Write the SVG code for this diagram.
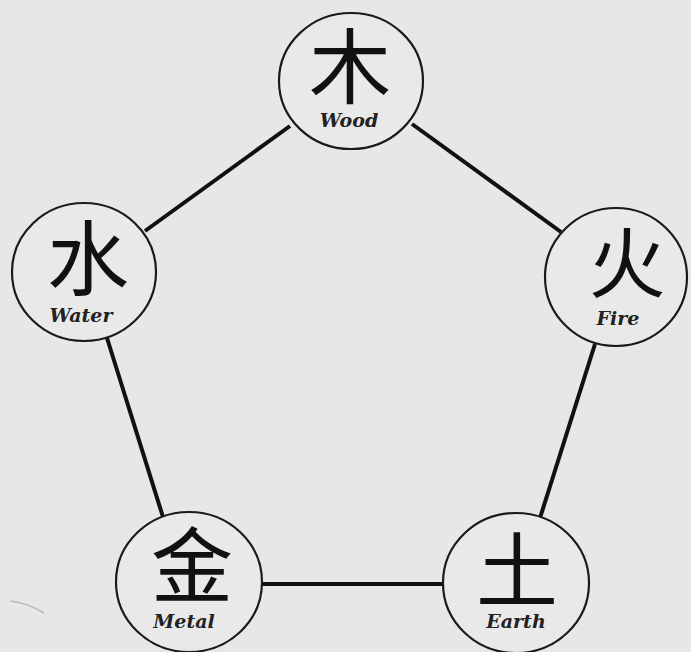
<svg xmlns="http://www.w3.org/2000/svg" width="691" height="652" viewBox="0 0 691 652">
<style>
.bg{fill:#e7e7e7}
.node ellipse{fill:#e9e9e9;stroke:#1a1a1a;stroke-width:2.2}
.han{font-family:"Noto Sans CJK SC","Noto Sans CJK JP",sans-serif;font-size:82px;fill:#111;text-anchor:middle}
.lbl{font-family:"DejaVu Serif","Liberation Serif",serif;font-weight:bold;font-style:italic;font-size:19px;fill:#222;text-anchor:middle}
.conn line{stroke:#111;stroke-width:4;stroke-linecap:butt}
</style>
<rect class="bg" x="0" y="0" width="691" height="652"/>
<g class="conn" id="connectors">
<line x1="412" y1="124" x2="561" y2="232"/>
<line x1="290" y1="126" x2="145" y2="231"/>
<line x1="107" y1="338" x2="163" y2="517"/>
<line x1="595" y1="344" x2="540" y2="518"/>
<line x1="262" y1="584" x2="443" y2="584"/>
</g>
<g class="node" id="wood">
<ellipse cx="351" cy="81" rx="72" ry="68"/>
<text class="han" x="350" y="97">木</text>
<text class="lbl" x="349" y="127">Wood</text>
</g>
<g class="node" id="water">
<ellipse cx="84" cy="272" rx="72" ry="69"/>
<text class="han" x="88" y="289">水</text>
<text class="lbl" x="81" y="322">Water</text>
</g>
<g class="node" id="fire">
<ellipse cx="616" cy="277" rx="71" ry="69"/>
<text class="han" x="627" y="292" style="font-size:77px">火</text>
<text class="lbl" x="618" y="325">Fire</text>
</g>
<g class="node" id="metal">
<ellipse cx="189" cy="582" rx="73" ry="70"/>
<text class="han" x="192" y="596">金</text>
<text class="lbl" x="184" y="628">Metal</text>
</g>
<g class="node" id="earth">
<ellipse cx="516" cy="583" rx="73" ry="70"/>
<text class="han" x="517" y="601">土</text>
<text class="lbl" x="516" y="628">Earth</text>
</g>
<path d="M10,601 Q28,603 44,613" fill="none" stroke="#999" stroke-width="1.5" opacity="0.6"/>
</svg>
